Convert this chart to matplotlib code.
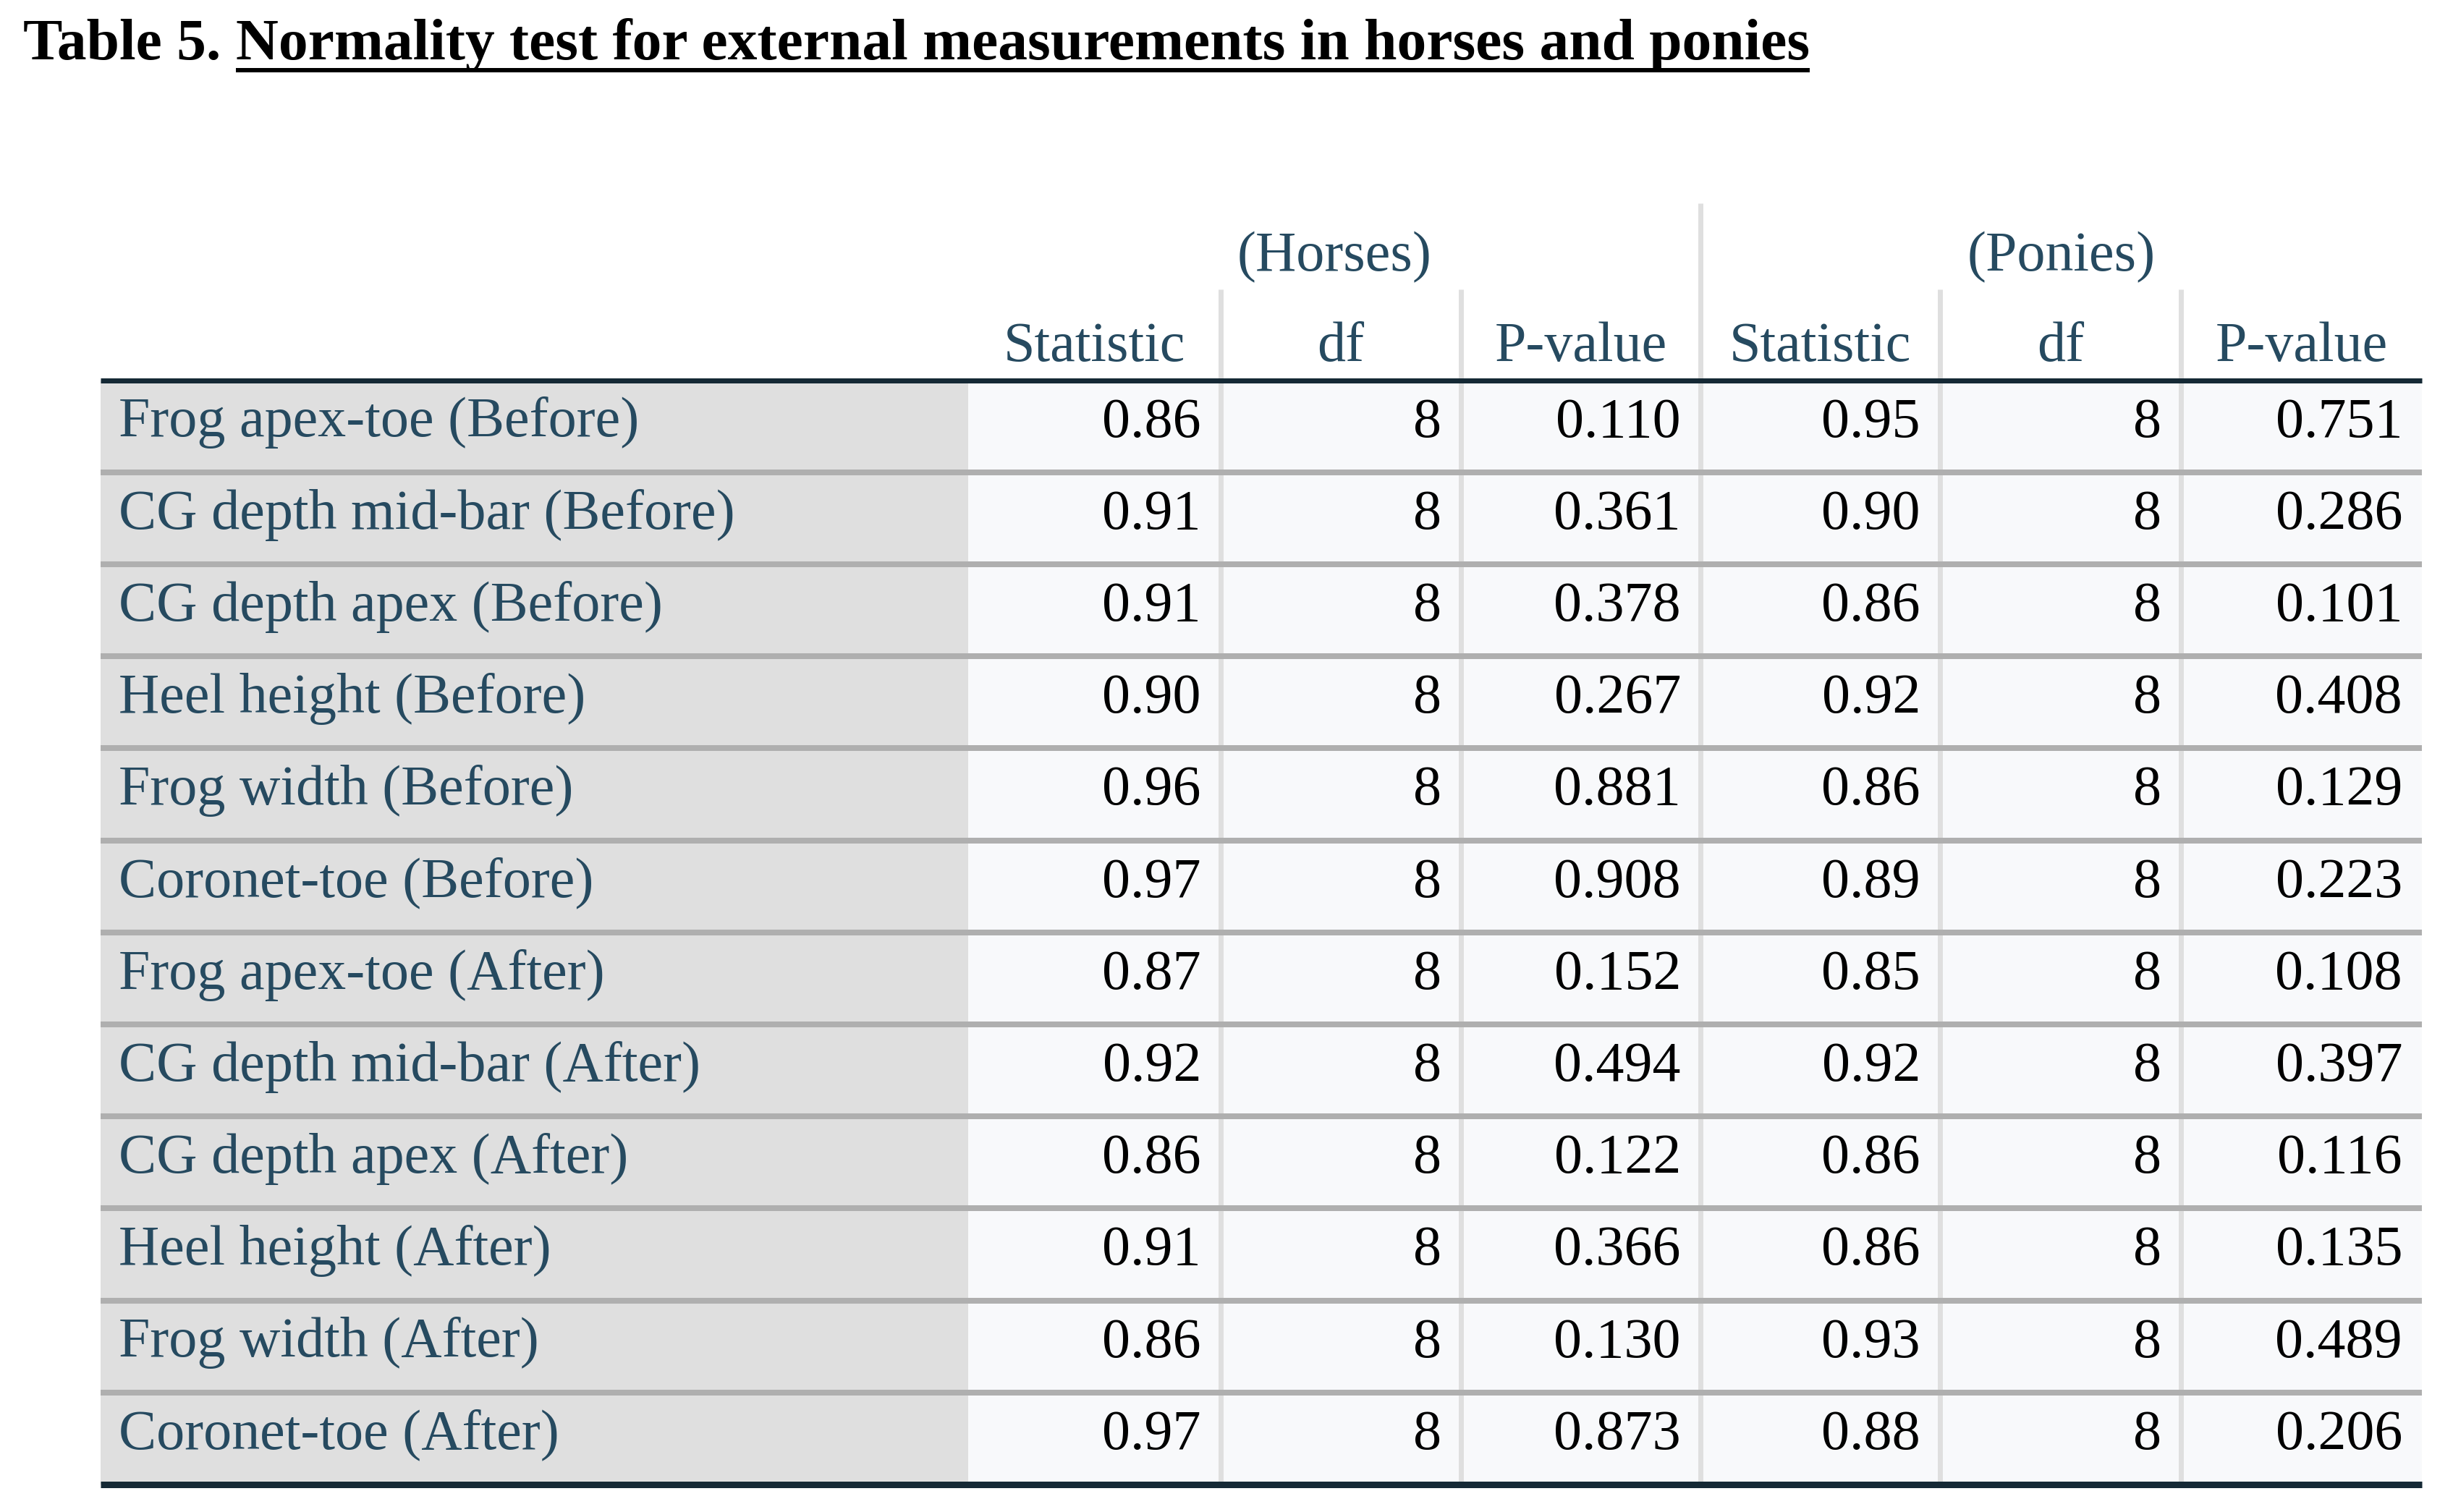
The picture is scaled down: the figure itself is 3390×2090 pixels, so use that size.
import matplotlib
matplotlib.use("Agg")
import matplotlib.pyplot as plt

# ---------------- data ----------------
title_prefix = "Table 5."
title_main = "Normality test for external measurements in horses and ponies"
groups = ["(Horses)", "(Ponies)"]
col_headers = ["Statistic", "df", "P-value", "Statistic", "df", "P-value"]
labels = [
    "Frog apex-toe (Before)", "CG depth mid-bar (Before)", "CG depth apex (Before)",
    "Heel height (Before)", "Frog width (Before)", "Coronet-toe (Before)",
    "Frog apex-toe (After)", "CG depth mid-bar (After)", "CG depth apex (After)",
    "Heel height (After)", "Frog width (After)", "Coronet-toe (After)",
]
horses_stat = ["0.86", "0.91", "0.91", "0.90", "0.96", "0.97", "0.87", "0.92", "0.86", "0.91", "0.86", "0.97"]
horses_df = ["8"] * 12
horses_p = ["0.110", "0.361", "0.378", "0.267", "0.881", "0.908", "0.152", "0.494", "0.122", "0.366", "0.130", "0.873"]
ponies_stat = ["0.95", "0.90", "0.86", "0.92", "0.86", "0.89", "0.85", "0.92", "0.86", "0.86", "0.93", "0.88"]
ponies_df = ["8"] * 12
ponies_p = ["0.751", "0.286", "0.101", "0.408", "0.129", "0.223", "0.108", "0.397", "0.116", "0.135", "0.489", "0.206"]

columns = [horses_stat, horses_df, horses_p, ponies_stat, ponies_df, ponies_p]

# ---------------- style / layout ----------------
W, H, DPI = 3390, 2090, 100
FONT = "Liberation Serif"
px2pt = 72.0 / DPI
body_size = 78 * px2pt
title_size = 81.5 * px2pt

hdr_color = "#264a60"
num_color = "#000000"
dark_line = "#152935"
sep_line = "#afafaf"
vline_color = "#dfdfdf"
stub_bg = "#dfdfdf"
cell_bg = "#f8f9fb"

table_left, table_right = 139, 3347
stub_right = 1338
col_edges = [1338, 1687, 2019, 2350, 2681, 3014, 3347]
header_line_y = 525.5
row_h = 127.2
n_rows = len(labels)
bottom_y = header_line_y + n_rows * row_h

fig = plt.figure(figsize=(W / DPI, H / DPI), dpi=DPI)
ax = fig.add_axes([0, 0, 1, 1])
ax.set_xlim(0, W)
ax.set_ylim(H, 0)
ax.axis("off")

# backgrounds
ax.fill_between([table_left, stub_right], header_line_y, bottom_y, color=stub_bg, lw=0, zorder=0)
ax.fill_between([stub_right, table_right], header_line_y, bottom_y, color=cell_bg, lw=0, zorder=0)

# vertical lines
for i, x in enumerate(col_edges[1:-1]):
    top = 281 if i == 2 else 400
    ax.plot([x, x], [top, bottom_y], color=vline_color, lw=7 * px2pt, zorder=1, solid_capstyle="butt")

# row separators
for r in range(1, n_rows):
    y = header_line_y + r * row_h
    ax.plot([table_left, table_right], [y, y], color=sep_line, lw=8 * px2pt, zorder=2, solid_capstyle="butt")

# thick lines
ax.plot([table_left, table_right], [header_line_y, header_line_y], color=dark_line,
        lw=7 * px2pt, zorder=3, solid_capstyle="butt")
ax.plot([table_left, table_right], [bottom_y, bottom_y], color=dark_line,
        lw=9 * px2pt, zorder=3, solid_capstyle="butt")

# title
t1 = ax.text(32, 82, title_prefix, fontsize=title_size, fontweight="bold", family=FONT,
             color="black", va="baseline", ha="left")
fig.canvas.draw()
r = fig.canvas.get_renderer()
inv = ax.transData.inverted()
bb1 = t1.get_window_extent(r)
x_end1 = inv.transform((bb1.x1, bb1.y0))[0]
x2 = x_end1 + 0.25 * 81.5
t2 = ax.text(x2, 82, title_main, fontsize=title_size, fontweight="bold", family=FONT,
             color="black", va="baseline", ha="left")
fig.canvas.draw()
bb2 = t2.get_window_extent(r)
x_end2 = inv.transform((bb2.x1, bb2.y0))[0]
ax.plot([x2, x_end2], [97, 97], color="black", lw=6 * px2pt, solid_capstyle="butt")

# group headers
ax.text((col_edges[0] + col_edges[3]) / 2, 374, groups[0], fontsize=body_size, family=FONT,
        color=hdr_color, ha="center", va="baseline")
ax.text((col_edges[3] + col_edges[6]) / 2, 374, groups[1], fontsize=body_size, family=FONT,
        color=hdr_color, ha="center", va="baseline")

# column headers
for j, h in enumerate(col_headers):
    xc = (col_edges[j] + col_edges[j + 1]) / 2
    ax.text(xc, 499, h, fontsize=body_size, family=FONT, color=hdr_color, ha="center", va="baseline")

# rows
pad = 27
for i, lab in enumerate(labels):
    yb = header_line_y + i * row_h + 78
    ax.text(table_left + 25, yb, lab, fontsize=body_size, family=FONT, color=hdr_color,
            ha="left", va="baseline", zorder=4)
    for j, col in enumerate(columns):
        ax.text(col_edges[j + 1] - pad, yb, col[i], fontsize=body_size, family=FONT,
                color=num_color, ha="right", va="baseline", zorder=4)

fig.savefig("out.png", dpi=DPI, facecolor="white")
